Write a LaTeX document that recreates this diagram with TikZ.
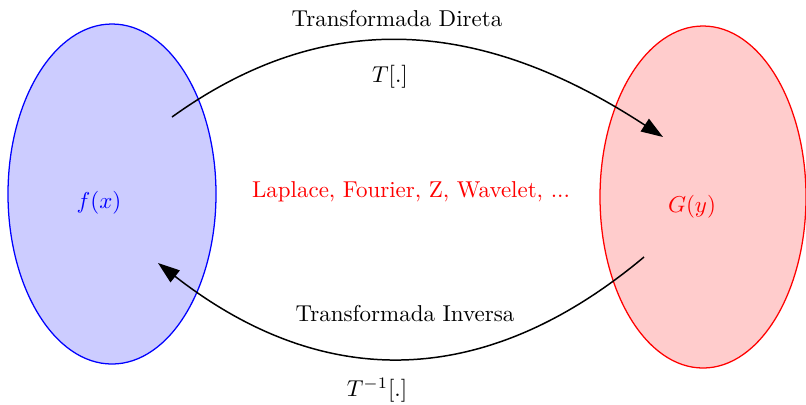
\documentclass[tikz,border=0pt]{standalone}
\usetikzlibrary{arrows.meta}
\begin{document}
\begin{tikzpicture}[x=0.4355pt,y=-0.4355pt,
  lbl/.style={inner sep=0pt,anchor=center},
  conn/.style={line width=0.65pt,-{Triangle[length=9.5pt,width=6.5pt]}}]
\useasboundingbox (0,0) rectangle (806,404);
\draw[blue,fill=blue!20,line width=0.55pt] (112,194) ellipse [x radius=104, y radius=170];
\draw[red,fill=red!20,line width=0.55pt] (703,197) ellipse [x radius=103, y radius=171];
\node[lbl,blue] (f) at (99,203) {$f(x)$};
\node[lbl,red] (g) at (692,207) {$G(y)$};
\node[lbl,red] (lap) at (411,192) {Laplace, Fourier, Z, Wavelet, ...};
\node[lbl] (td) at (397,19) {Transformada Direta};
\node[lbl] (t) at (390,77) {$T[.]$};
\node[lbl] (ti) at (405,314) {Transformada Inversa};
\node[lbl] (tinv) at (377,390) {$T^{-1}[.]$};
\coordinate (a1) at (172,117);
\coordinate (a2) at (663,137);
\coordinate (b1) at (644,257);
\coordinate (b2) at (158,263);
\draw[conn] (a1) .. controls (318,12) and (472,12) .. (a2);
\draw[conn] (b1) .. controls (484,391) and (322,391) .. (b2);
\end{tikzpicture}
\end{document}
